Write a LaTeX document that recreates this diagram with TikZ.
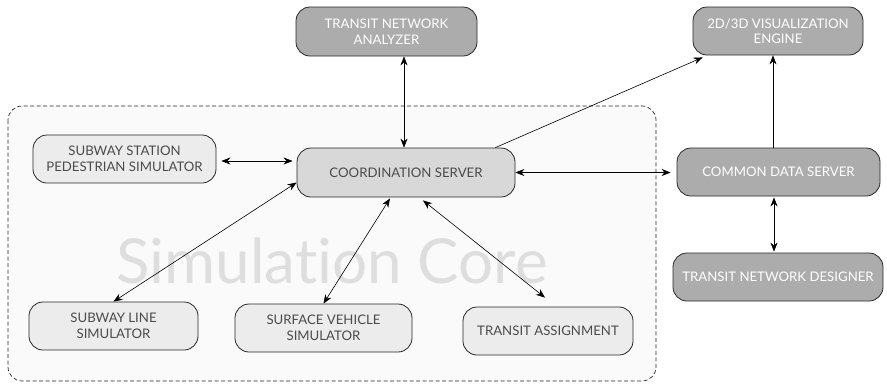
\documentclass[tikz,border=0pt]{standalone}
\usepackage{fontspec}
\setmainfont{Lato}[Ligatures={NoCommon,NoContextual}]
\usetikzlibrary{arrows.meta,calc}
\definecolor{darkfill}{RGB}{172,172,172}
\definecolor{lightfill}{RGB}{236,236,236}
\definecolor{coordfill}{RGB}{216,216,216}
\definecolor{corefill}{RGB}{250,250,250}
\definecolor{boxline}{RGB}{40,40,40}
\definecolor{boxtext}{RGB}{75,75,75}
\definecolor{wmark}{RGB}{222,222,222}
\tikzset{
  box/.style={draw=boxline, line width=0.8pt, rounded corners=14pt, align=center,
    font=\fontsize{13.2}{15.5}\selectfont, inner sep=2pt},
  darkbox/.style={box, fill=darkfill, text=white},
  lightbox/.style={box, fill=lightfill, text=boxtext},
  arr/.style={line width=0.6pt, -{Stealth[length=9pt,width=7pt]}},
  darr/.style={line width=0.6pt, {Stealth[length=9pt,width=7pt]}-{Stealth[length=9pt,width=7pt]}},
}
\begin{document}
\begin{tikzpicture}[x=1pt,y=-1pt]
\useasboundingbox (0,0) rectangle (887,384);
% simulation core region
\draw[draw=boxline, line width=0.7pt, fill=corefill, rounded corners=14pt, dash pattern=on 4pt off 2.5pt] (8,106) rectangle (656,381);
\node[text=wmark, font=\fontsize{62}{62}\selectfont] (wm) at (332,261) {Simulation Core};
% boxes
\node[darkbox, minimum width=181pt, minimum height=49pt] (ana) at (386.5,31.5) {TRANSIT NETWORK\\ANALYZER};
\node[darkbox, minimum width=170pt, minimum height=48pt] (vis) at (778,31) {2D/3D VISUALIZATION\\ENGINE};
\node[lightbox, minimum width=183pt, minimum height=48pt] (ssp) at (124.5,159) {SUBWAY STATION\\PEDESTRIAN SIMULATOR};
\node[lightbox, fill=coordfill, minimum width=218pt, minimum height=49pt] (cs) at (406,172.5) {COORDINATION SERVER};
\node[darkbox, minimum width=203pt, minimum height=48pt] (cds) at (778.5,172) {COMMON DATA SERVER};
\node[darkbox, minimum width=210pt, minimum height=48pt] (tnd) at (778,277) {TRANSIT NETWORK DESIGNER};
\node[lightbox, minimum width=169pt, minimum height=48pt] (sls) at (113.5,326) {SUBWAY LINE\\SIMULATOR};
\node[lightbox, minimum width=177pt, minimum height=48pt] (svs) at (323.5,328) {SURFACE VEHICLE\\SIMULATOR};
\node[lightbox, minimum width=170pt, minimum height=48pt] (ta) at (548,331) {TRANSIT ASSIGNMENT};
% connectors
\draw[darr] ([xshift=-2pt]cs.north) -- ([xshift=-2pt]cs.north |- ana.south);
\draw[arr] ([xshift=-20pt]cs.north east) -- ([xshift=10pt,yshift=-2pt]vis.south west);
\draw[darr, shorten >=4pt, shorten <=5pt] ([yshift=-2pt]ssp.east) -- ([yshift=-2pt]ssp.east -| cs.west);
\draw[darr, shorten >=6pt] (cs.east) -- (cs.east -| cds.west);
\draw[darr] ([yshift=-10pt]cs.west) -- (sls.north);
\draw[darr] ([xshift=-16pt,yshift=-1pt]cs.south) -- (svs.north);
\draw[darr] ([xshift=17pt,yshift=-3pt]cs.south) -- ([xshift=-3pt,yshift=9pt]ta.north);
\draw[arr] ([xshift=-5.5pt]cds.north) -- ([xshift=-5.5pt]cds.north |- vis.south);
\draw[darr, shorten >=1pt, shorten <=1pt] ([xshift=-4.5pt]cds.south) -- ([xshift=-4.5pt]cds.south |- tnd.north);
\end{tikzpicture}
\end{document}
